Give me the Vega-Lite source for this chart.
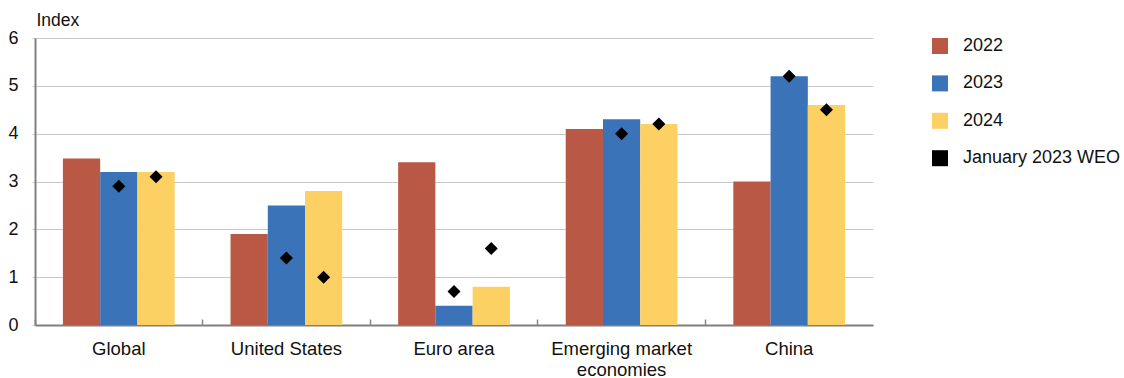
{
  "$schema": "https://vega.github.io/schema/vega-lite/v6.json",
  "autosize": {"type": "none"},
  "padding": {"left": 35, "top": 38, "right": 251, "bottom": 53},
  "width": 838,
  "height": 287,
  "config": {
    "font": "Liberation Sans",
    "view": {"stroke": null}
  },
  "datasets": {
    "bars": [
      {"region": "Global", "year": "2022", "value": 3.48},
      {"region": "Global", "year": "2023", "value": 3.2},
      {"region": "Global", "year": "2024", "value": 3.2},
      {"region": "United States", "year": "2022", "value": 1.9},
      {"region": "United States", "year": "2023", "value": 2.5},
      {"region": "United States", "year": "2024", "value": 2.8},
      {"region": "Euro area", "year": "2022", "value": 3.4},
      {"region": "Euro area", "year": "2023", "value": 0.4},
      {"region": "Euro area", "year": "2024", "value": 0.8},
      {"region": "Emerging market economies", "year": "2022", "value": 4.1},
      {"region": "Emerging market economies", "year": "2023", "value": 4.3},
      {"region": "Emerging market economies", "year": "2024", "value": 4.2},
      {"region": "China", "year": "2022", "value": 3.0},
      {"region": "China", "year": "2023", "value": 5.2},
      {"region": "China", "year": "2024", "value": 4.6}
    ],
    "weo": [
      {"region": "Global", "year": "2023", "value": 2.9},
      {"region": "Global", "year": "2024", "value": 3.1},
      {"region": "United States", "year": "2023", "value": 1.4},
      {"region": "United States", "year": "2024", "value": 1.0},
      {"region": "Euro area", "year": "2023", "value": 0.7},
      {"region": "Euro area", "year": "2024", "value": 1.6},
      {"region": "Emerging market economies", "year": "2023", "value": 4.0},
      {"region": "Emerging market economies", "year": "2024", "value": 4.2},
      {"region": "China", "year": "2023", "value": 5.2},
      {"region": "China", "year": "2024", "value": 4.5}
    ]
  },
  "encoding": {
    "x": {
      "field": "region",
      "type": "nominal",
      "sort": ["Global", "United States", "Euro area", "Emerging market economies", "China"],
      "scale": {"paddingInner": 0, "paddingOuter": 0},
      "axis": {
        "title": null,
        "labelAngle": 0,
        "labelFontSize": 18.5,
        "labelColor": "#111111",
        "labelPadding": 20,
        "labelLineHeight": 21,
        "labelExpr": "datum.label == 'Emerging market economies' ? ['Emerging market', 'economies'] : datum.label",
        "bandPosition": 0,
        "tickSize": -6,
        "tickColor": "#888888",
        "tickWidth": 1.5,
        "domainColor": "#808080",
        "domainWidth": 2,
        "grid": false
      }
    },
    "y": {
      "field": "value",
      "type": "quantitative",
      "scale": {"domain": [0, 6], "nice": false},
      "axis": {
        "title": "Index",
        "titleAngle": 0,
        "titleX": 1,
        "titleY": -13,
        "titleAlign": "left",
        "titleBaseline": "alphabetic",
        "titleFontSize": 17.5,
        "titleFontWeight": "normal",
        "titleColor": "#111111",
        "values": [0, 1, 2, 3, 4, 5, 6],
        "labelFontSize": 18,
        "labelColor": "#111111",
        "labelPadding": 14,
        "tickSize": 3,
        "tickColor": "#c8c8c8",
        "domainColor": "#808080",
        "domainWidth": 2,
        "grid": true,
        "gridColor": "#c8c8c8",
        "gridWidth": 1.2
      }
    },
    "xOffset": {
      "field": "year",
      "type": "nominal",
      "scale": {"domain": ["2022", "2023", "2024"], "paddingInner": 0, "paddingOuter": 0.75}
    }
  },
  "layer": [
    {
      "data": {"name": "bars"},
      "mark": {"type": "bar"},
      "encoding": {
        "color": {
          "field": "year",
          "type": "nominal",
          "scale": {
            "domain": ["2022", "2023", "2024", "January 2023 WEO"],
            "range": ["#BA5846", "#3A73B8", "#FDD063", "#000000"]
          },
          "legend": {
            "title": null,
            "orient": "none",
            "legendX": 896,
            "legendY": -1,
            "symbolType": "square",
            "symbolSize": 256,
            "symbolStrokeWidth": 0,
            "symbolOpacity": 1,
            "labelFontSize": 18,
            "labelColor": "#111111",
            "labelOffset": 14,
            "rowPadding": 19.4,
            "values": ["2022", "2023", "2024", "January 2023 WEO"]
          }
        }
      }
    },
    {
      "data": {"name": "weo"},
      "mark": {"type": "point", "shape": "diamond", "filled": true, "color": "#000000", "size": 170, "opacity": 1}
    }
  ]
}
